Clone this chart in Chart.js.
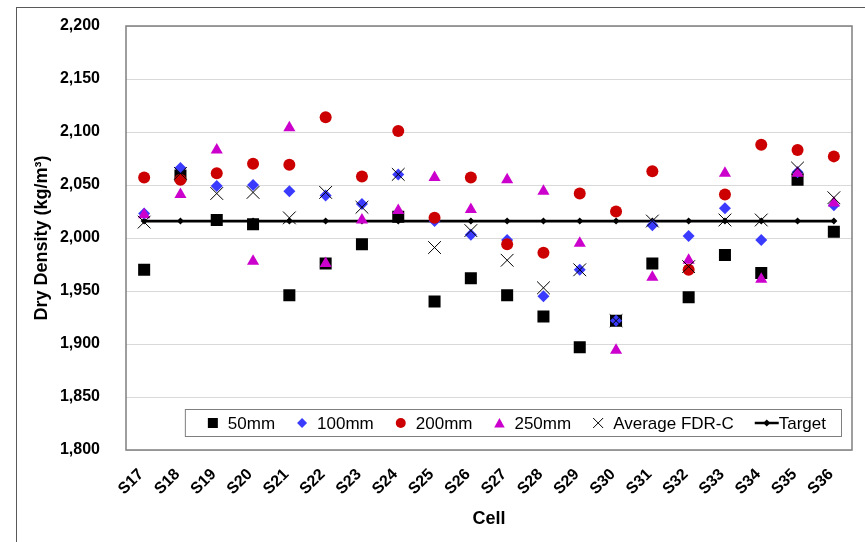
<!DOCTYPE html>
<html>
<head>
<meta charset="utf-8">
<script src="https://cdn.jsdelivr.net/npm/chart.js"></script>
<style>
  html, body { margin: 0; padding: 0; background: #fff; }
  #wrap { position: relative; width: 865px; height: 542px; }
</style>
</head>
<body>
<div id="wrap"><canvas id="chart"></canvas></div>
<script>
const cells = ["S17", "S18", "S19", "S20", "S21", "S22", "S23", "S24", "S25", "S26",
               "S27", "S28", "S29", "S30", "S31", "S32", "S33", "S34", "S35", "S36"];

const dens50 = [1970, 2059, 2017, 2013, 1946, 1976, 1994, 2020, 1940, 1962,
                1946, 1926, 1897, 1922, 1976, 1944, 1984, 1967, 2055, 2006];
const dens100 = [2023, 2066, 2049, 2050, 2044, 2040, 2032, 2060, 2016, 2003,
                 1998, 1945, 1970, 1922, 2012, 2002, 2028, 1998, 2062, 2031];
const dens200 = [2057, 2055, 2061, 2070, 2069, 2114, 2058, 2101, 2019, 2057,
                 1994, 1986, 2042, 2025, 2063, 1970, 2041, 2088, 2083, 2077];
const dens250 = [2022, 2041, 2083, 1978, 2104, 1976, 2017, 2026, 2057, 2027,
                 2055, 2044, 1995, 1894, 1963, 1979, 2061, 1961, 2061, 2033];
const densAvg = [2015, 2061, 2042, 2043, 2019, 2043, 2029, 2060, 1991, 2007,
                 1979, 1953, 1970, 1922, 2016, 1973, 2017, 2017, 2066, 2038];
const target = [2016, 2016, 2016, 2016, 2016, 2016, 2016, 2016, 2016, 2016,
                2016, 2016, 2016, 2016, 2016, 2016, 2016, 2016, 2016, 2016];

const FONT = '"Liberation Sans", Arial, sans-serif';

function marker(label, data, style, color, radius, order) {
  return {
    label: label, data: data, showLine: false, order: order,
    pointStyle: style, pointRadius: radius, pointHoverRadius: radius,
    backgroundColor: color, borderColor: color,
    pointBorderWidth: style === "crossRot" ? 1 : 0
  };
}

// draws the plot frame, the outer chart frame and the boxed legend
const framePlugin = {
  id: "frame",
  beforeDraw(chart) {
    const ctx = chart.ctx;
    ctx.save();
    ctx.fillStyle = "#fff";
    ctx.fillRect(0, 0, chart.width, chart.height);
    ctx.restore();
  },
  afterDatasetsDraw(chart) {
    const { ctx, chartArea: a } = chart;
    ctx.save();
    ctx.strokeStyle = "#7f7f7f";
    ctx.lineWidth = 1.5;
    ctx.strokeRect(a.left, a.top, a.right - a.left, a.bottom - a.top);
    ctx.strokeStyle = "#595959";
    ctx.lineWidth = 1;
    ctx.strokeRect(16.5, 7.5, chart.width + 20, chart.height + 20);
    ctx.restore();
  },
  afterDraw(chart) {
    const { ctx, chartArea: a } = chart;
    const sets = chart.data.datasets;
    ctx.save();
    ctx.font = "17px " + FONT;
    const widths = sets.map((ds, i) => {
      const tw = ctx.measureText(ds.label).width;
      return (ds.showLine ? 24 : 21) + tw;
    });
    const gap = 21;
    const padL = 22, padR = 15;
    let total = padL + padR;
    widths.forEach((w, i) => { total += w + (i ? gap : 0); });
    const right = a.right - 11, bottom = a.bottom - 14, h = 27;
    const left = right - total, top = bottom - h;
    ctx.fillStyle = "#fff";
    ctx.fillRect(left, top, total, h);
    ctx.strokeStyle = "#7f7f7f";
    ctx.lineWidth = 1;
    ctx.strokeRect(left + 0.5, top + 0.5, total, h);
    const cy = top + h / 2 + 0.5;
    let x = left + padL;
    sets.forEach((ds, i) => {
      ctx.fillStyle = ds.backgroundColor;
      ctx.strokeStyle = ds.borderColor;
      let tx;
      if (ds.showLine) {
        ctx.lineWidth = 2.5;
        ctx.beginPath();
        ctx.moveTo(x, cy); ctx.lineTo(x + 24, cy); ctx.stroke();
        drawShape(ctx, "rectRot", x + 12, cy, 3.5);
        tx = x + 24;
      } else {
        drawShape(ctx, ds.pointStyle, x + 6, cy, 5);
        tx = x + 21;
      }
      ctx.fillStyle = "#000";
      ctx.textBaseline = "middle";
      ctx.textAlign = "left";
      ctx.fillText(ds.label, tx, cy + 1);
      x += widths[i] + gap;
    });
    ctx.restore();
  }
};

function drawShape(ctx, style, x, y, s) {
  ctx.beginPath();
  if (style === "rect") {
    ctx.rect(x - s, y - s, 2 * s, 2 * s); ctx.fill();
  } else if (style === "rectRot") {
    ctx.moveTo(x - s, y); ctx.lineTo(x, y - s); ctx.lineTo(x + s, y); ctx.lineTo(x, y + s);
    ctx.closePath(); ctx.fill();
  } else if (style === "circle") {
    ctx.arc(x, y, s, 0, Math.PI * 2); ctx.fill();
  } else if (style === "triangle") {
    ctx.moveTo(x, y - s); ctx.lineTo(x + s * 1.05, y + s * 0.9); ctx.lineTo(x - s * 1.05, y + s * 0.9);
    ctx.closePath(); ctx.fill();
  } else if (style === "crossRot") {
    ctx.lineWidth = 1;
    ctx.moveTo(x - s, y - s); ctx.lineTo(x + s, y + s);
    ctx.moveTo(x + s, y - s); ctx.lineTo(x - s, y + s);
    ctx.stroke();
  }
}

new Chart(document.getElementById("chart"), {
  type: "line",
  data: {
    labels: cells,
    datasets: [
      marker("50mm", dens50, "rect", "#000000", 8.5, 5),
      marker("100mm", dens100, "rectRot", "#3b3bff", 6, 4),
      marker("200mm", dens200, "circle", "#cc0000", 6, 3),
      marker("250mm", dens250, "triangle", "#cc00cc", 7, 2),
      marker("Average FDR-C", densAvg, "crossRot", "#000000", 9, 1),
      {
        label: "Target", data: target, showLine: true, order: 6,
        borderColor: "#000", backgroundColor: "#000", borderWidth: 2.8,
        pointStyle: "rectRot", pointRadius: 3.5, pointHoverRadius: 3.5, pointBorderWidth: 0
      }
    ]
  },
  options: {
    responsive: true,
    maintainAspectRatio: false,
    animation: false,
    events: [],
    layout: { padding: { top: 26, right: 13, left: 0, bottom: 0 } },
    plugins: { legend: { display: false }, tooltip: { enabled: false } },
    scales: {
      x: {
        type: "category",
        offset: true,
        grid: { display: false, drawTicks: false },
        border: { display: false },
        ticks: {
          color: "#000", minRotation: 45, maxRotation: 45, autoSkip: false,
          padding: 15, labelOffset: -3,
          font: { family: FONT, size: 16, weight: "bold" }
        },
        title: {
          display: true, text: "Cell", color: "#000",
          padding: { top: 0, bottom: 12 },
          font: { family: FONT, size: 18, weight: "bold" }
        },
        afterFit(scale) { scale.height = 92; }
      },
      y: {
        min: 1800, max: 2200,
        grid: { color: "#d9d9d9", lineWidth: 1, drawTicks: false },
        border: { display: false },
        ticks: {
          stepSize: 50, color: "#000", padding: 26,
          font: { family: FONT, size: 16, weight: "bold" },
          callback: v => v.toLocaleString("en-US")
        },
        title: {
          display: true, text: "Dry Density (kg/m\u00B3)", color: "#000",
          padding: { top: 31, bottom: 0 },
          font: { family: FONT, size: 18, weight: "bold" }
        },
        afterFit(scale) {
          scale.width = 126;
          scale.paddingTop = 10;
          scale.paddingBottom = 10;
        }
      }
    }
  },
  plugins: [framePlugin]
});
</script>
</body>
</html>
